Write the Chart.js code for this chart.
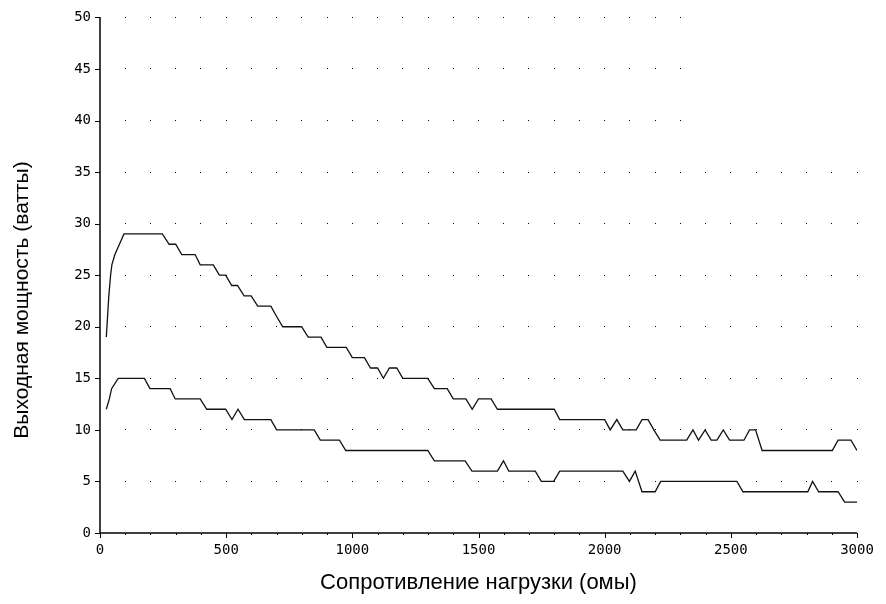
<!DOCTYPE html>
<html>
<head>
<meta charset="utf-8">
<script src="https://cdn.jsdelivr.net/npm/chart.js@4.4.1/dist/chart.umd.min.js"></script>
<style>
  html, body { margin: 0; padding: 0; background: #fff; }
  #wrap { width: 886px; height: 604px; }
</style>
</head>
<body>
<div id="wrap"><canvas id="c" width="886" height="604"></canvas></div>
<script>
// ---- data ----
const upperX = [25, 30, 35, 42, 47, 59, 77, 95, 247, 274, 300, 324, 377, 397, 449, 473, 498, 522, 545, 571, 599, 625, 677, 700, 724, 799, 825, 876, 899, 976, 1000, 1048, 1072, 1100, 1123, 1147, 1176, 1200, 1299, 1325, 1376, 1400, 1450, 1475, 1500, 1550, 1575, 1800, 1822, 2000, 2022, 2048, 2072, 2125, 2148, 2172, 2195, 2220, 2325, 2350, 2372, 2398, 2422, 2445, 2470, 2495, 2552, 2574, 2598, 2624, 2902, 2925, 2976, 3000];
const upperY = [19, 21, 23, 25, 26, 27, 28, 29, 29, 28, 28, 27, 27, 26, 26, 25, 25, 24, 24, 23, 23, 22, 22, 21, 20, 20, 19, 19, 18, 18, 17, 17, 16, 16, 15, 16, 16, 15, 15, 14, 14, 13, 13, 12, 13, 13, 12, 12, 11, 11, 10, 11, 10, 10, 11, 11, 10, 9, 9, 10, 9, 10, 9, 9, 10, 9, 9, 10, 10, 8, 8, 9, 9, 8];

const lowerX = [25, 37, 46, 72, 176, 198, 278, 298, 397, 423, 498, 523, 547, 572, 677, 700, 849, 873, 949, 974, 1299, 1325, 1447, 1474, 1575, 1599, 1620, 1725, 1749, 1798, 1822, 2072, 2098, 2121, 2148, 2200, 2222, 2524, 2548, 2805, 2824, 2848, 2925, 2951, 3000];
const lowerY = [12, 13, 14, 15, 15, 14, 14, 13, 13, 12, 12, 11, 12, 11, 11, 10, 10, 9, 9, 8, 8, 7, 7, 6, 6, 7, 6, 6, 5, 5, 6, 6, 5, 6, 4, 4, 5, 5, 4, 4, 5, 4, 4, 3, 3];

const xTicks = [0, 500, 1000, 1500, 2000, 2500, 3000];
const yTicks = [0, 5, 10, 15, 20, 25, 30, 35, 40, 45, 50];
const xTitle = 'Сопротивление нагрузки (омы)';
const yTitle = 'Выходная мощность (ватты)';

const toPts = (xs, ys) => xs.map((x, i) => ({ x: x, y: ys[i] }));

// dotted grid, axis lines, tick marks and rotated y title
const decor = {
  id: 'decor',
  beforeDatasetsDraw(chart) {
    const ctx = chart.ctx;
    const xs = chart.scales.x, ys = chart.scales.y;
    ctx.save();
    ctx.fillStyle = '#000';
    for (let yv = 5; yv <= 50; yv += 5) {
      const maxX = yv >= 40 ? 2300 : 3000;
      const py = Math.floor(ys.getPixelForValue(yv));
      for (let xv = 100; xv <= maxX; xv += 100) {
        const px = Math.floor(xs.getPixelForValue(xv));
        ctx.fillRect(px, py, 1, 1);
      }
    }
    ctx.restore();
  },
  afterDraw(chart) {
    const ctx = chart.ctx;
    const xs = chart.scales.x, ys = chart.scales.y;
    const a = chart.chartArea;
    ctx.save();
    ctx.strokeStyle = '#000';
    ctx.lineWidth = 1.5;
    ctx.beginPath();
    ctx.moveTo(a.left, a.top - 0.5);
    ctx.lineTo(a.left, a.bottom);
    ctx.lineTo(a.right, a.bottom);
    ctx.stroke();
    ctx.lineWidth = 1;
    ctx.beginPath();
    yTicks.forEach(v => {
      const py = Math.round(ys.getPixelForValue(v)) + 0.5;
      ctx.moveTo(a.left - 5, py);
      ctx.lineTo(a.left, py);
    });
    for (let v = 0; v <= 3000; v += 100) {
      const px = Math.round(xs.getPixelForValue(v)) + 0.5;
      const len = v % 500 === 0 ? 5 : 2;
      ctx.moveTo(px, a.bottom);
      ctx.lineTo(px, a.bottom + len);
    }
    ctx.stroke();
    ctx.fillStyle = '#000';
    ctx.font = '21px "Liberation Sans", Arial, sans-serif';
    ctx.textAlign = 'center';
    ctx.textBaseline = 'middle';
    ctx.translate(22, 300);
    ctx.rotate(-Math.PI / 2);
    ctx.fillText(yTitle, 0, 0);
    ctx.restore();
  }
};

const tickFont = { family: '"DejaVu Sans Mono", monospace', size: 14 };

new Chart(document.getElementById('c'), {
  type: 'line',
  data: {
    datasets: [
      { label: 'upper', data: toPts(upperX, upperY), borderColor: '#111', borderWidth: 1.3, pointRadius: 0, tension: 0, fill: false },
      { label: 'lower', data: toPts(lowerX, lowerY), borderColor: '#111', borderWidth: 1.3, pointRadius: 0, tension: 0, fill: false }
    ]
  },
  options: {
    responsive: false,
    animation: false,
    events: [],
    layout: { padding: { top: 14, right: 29, left: 0, bottom: 0 } },
    plugins: { legend: { display: false }, tooltip: { enabled: false } },
    scales: {
      x: {
        type: 'linear', min: 0, max: 3000,
        afterBuildTicks: s => { s.ticks = xTicks.map(v => ({ value: v })); },
        afterFit: s => { s.height = 71; },
        grid: { display: false, drawTicks: false },
        border: { display: false },
        ticks: { color: '#000', padding: 9, maxRotation: 0, autoSkip: false, font: tickFont,
                 callback: v => String(v) },
        title: { display: true, text: xTitle, color: '#000', padding: { top: 0, bottom: 8 },
                 font: { family: '"Liberation Sans", Arial, sans-serif', size: 22 } }
      },
      y: {
        type: 'linear', min: 0, max: 50,
        afterBuildTicks: s => { s.ticks = yTicks.map(v => ({ value: v })); },
        afterFit: s => { s.width = 100; },
        grid: { display: false, drawTicks: false },
        border: { display: false },
        ticks: { color: '#000', padding: 9, autoSkip: false, font: tickFont,
                 callback: v => String(v) }
      }
    }
  },
  plugins: [decor]
});
</script>
</body>
</html>
